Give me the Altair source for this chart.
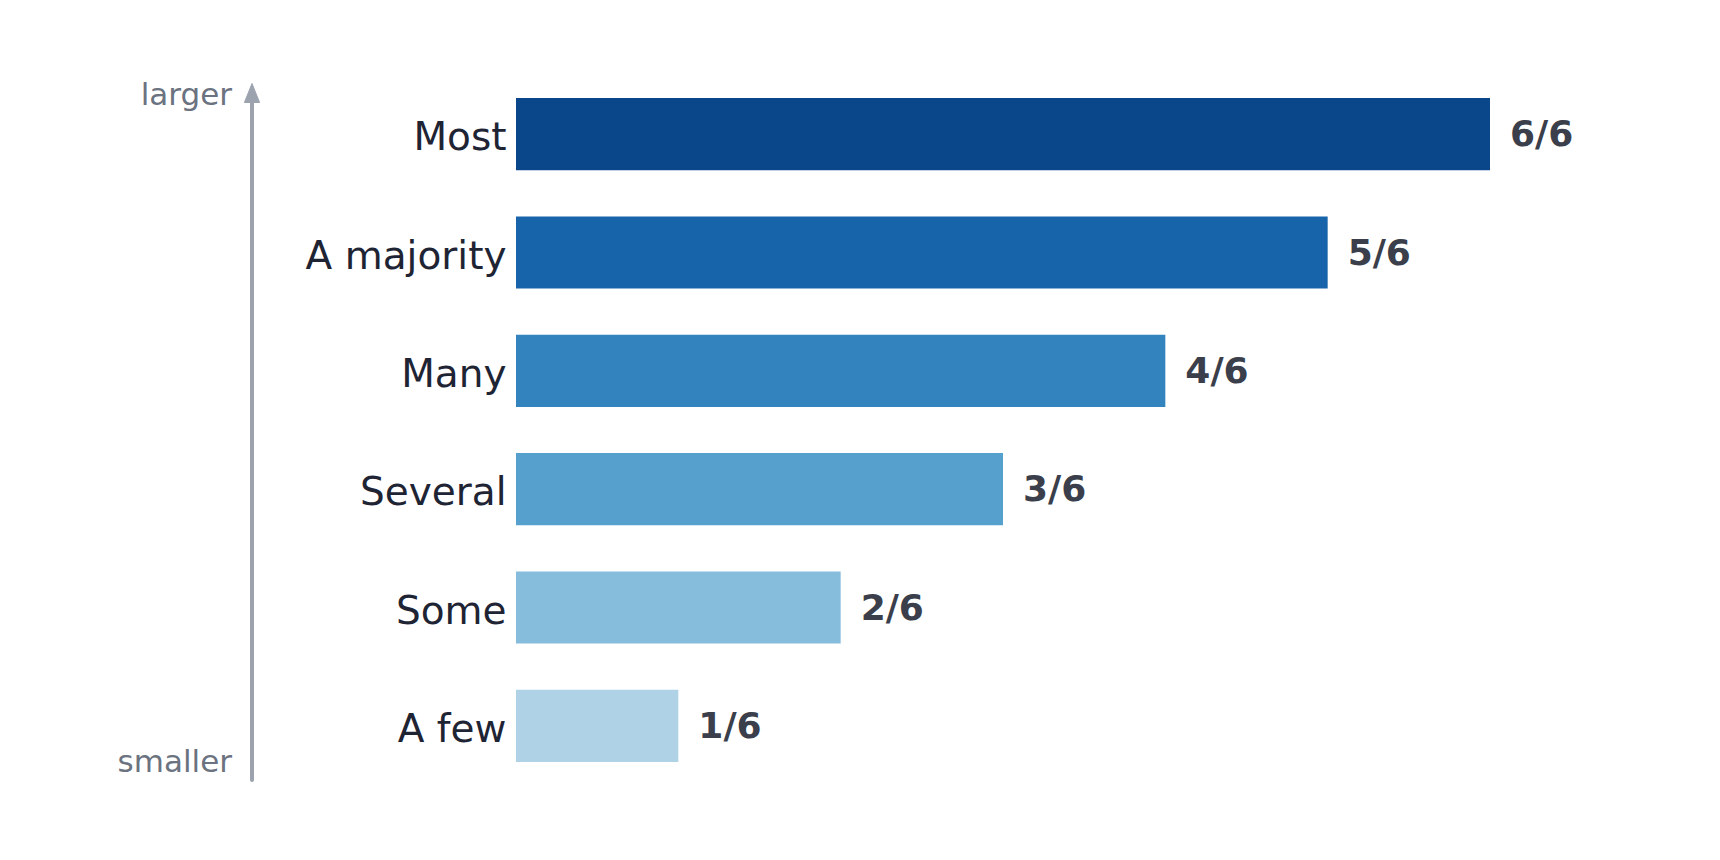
import altair as alt
import pandas as pd

categories = ["Most", "A majority", "Many", "Several", "Some", "A few"]
values = [6, 5, 4, 3, 2, 1]
labels = ["6/6", "5/6", "4/6", "3/6", "2/6", "1/6"]
colors = ["#0a468a", "#1864aa", "#3383be", "#56a0ce", "#86bcdc", "#b0d2e7"]
arrow_texts = ["larger", "smaller"]

df = pd.DataFrame({"cat": categories, "val": values, "label": labels, "color": colors})

y_enc = alt.Y(
    "cat:N",
    sort=categories,
    scale=alt.Scale(paddingInner=0.39, paddingOuter=0.195),
    axis=alt.Axis(
        title=None, domain=False, ticks=False, labelFontSize=39,
        labelColor="#1e2433", labelPadding=10, labelFont="DejaVu Sans",
        labelBaseline="middle", labelLimit=0, labelOffset=4,
    ),
)
x_enc = alt.X("val:Q", scale=alt.Scale(domain=[0, 6]), axis=None)

bars = alt.Chart(df).mark_bar().encode(
    y=y_enc, x=x_enc, color=alt.Color("color:N", scale=None)
)

text = alt.Chart(df).mark_text(
    align="left", baseline="middle", dx=20, dy=1, fontSize=36, fontWeight="bold",
    color="#3a3f4b", font="DejaVu Sans",
).encode(y=y_enc, x=x_enc, text="label:N")

arrow_df = pd.DataFrame({"a": [0]})
rule = alt.Chart(arrow_df).mark_rule(color="#9ca3af", strokeWidth=4, strokeCap="round").encode(
    x=alt.value(-264), y=alt.value(26), y2=alt.value(705)
)
head = alt.Chart(arrow_df).mark_point(
    shape="M-0.8,1L0,-1L0.8,1Z", filled=True, color="#9ca3af", opacity=1, size=361,
    strokeWidth=1, stroke="#9ca3af", strokeJoin="round",
).encode(x=alt.value(-264), y=alt.value(18))

tdf = pd.DataFrame({"t": arrow_texts})
larger = alt.Chart(tdf.iloc[[0]]).mark_text(
    align="right", baseline="alphabetic", fontSize=31, color="#6b7280", font="DejaVu Sans"
).encode(x=alt.value(-284), y=alt.value(30), text="t:N")
smaller = alt.Chart(tdf.iloc[[1]]).mark_text(
    align="right", baseline="alphabetic", fontSize=31, color="#6b7280", font="DejaVu Sans"
).encode(x=alt.value(-284), y=alt.value(697), text="t:N")

chart = alt.layer(bars, text, rule, head, larger, smaller).properties(
    width=974, height=710,
    autosize=alt.AutoSizeParams(type="none"),
    padding={"left": 508, "top": 67, "right": 222, "bottom": 67},
).configure_view(stroke=None).configure_axis(grid=False)

chart.save("out.html", embed_options={"renderer": "svg", "actions": False})
